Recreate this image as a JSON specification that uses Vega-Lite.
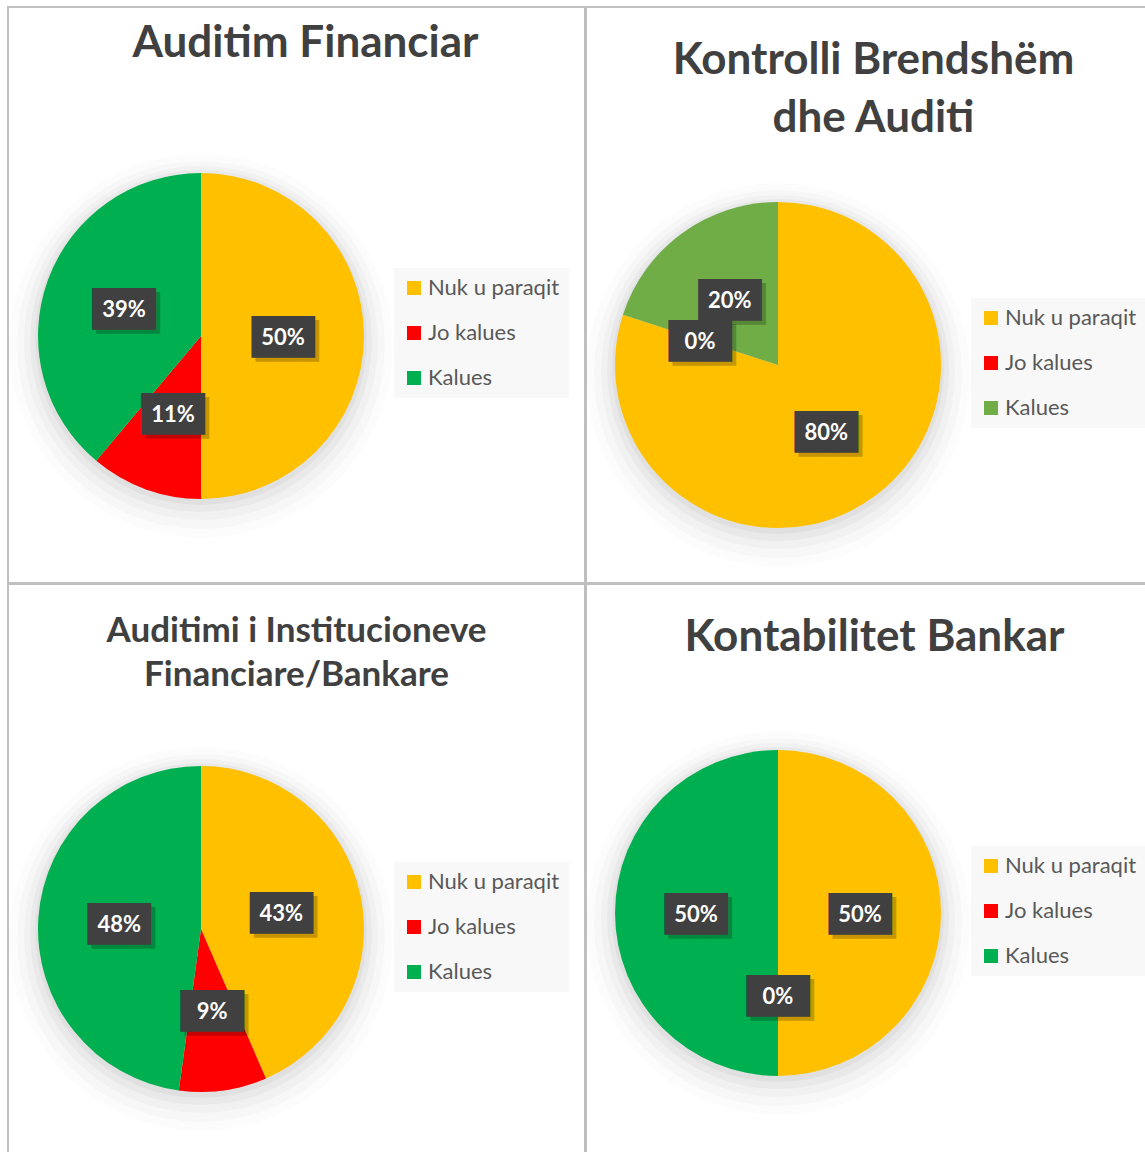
{
  "$schema": "https://vega.github.io/schema/vega-lite/v6.json",
  "padding": {"left": 7, "top": 6, "right": 0, "bottom": 0},
  "background": "white",
  "datasets": {
    "p1": [
      {"cat": "Nuk u paraqit", "v": 0.5, "o": 1},
      {"cat": "Jo kalues", "v": 0.1111, "o": 2},
      {"cat": "Kalues", "v": 0.3889, "o": 3}
    ],
    "p2": [
      {"cat": "Nuk u paraqit", "v": 0.8, "o": 1},
      {"cat": "Jo kalues", "v": 0, "o": 2},
      {"cat": "Kalues", "v": 0.2, "o": 3}
    ],
    "p3": [
      {"cat": "Nuk u paraqit", "v": 0.4348, "o": 1},
      {"cat": "Jo kalues", "v": 0.087, "o": 2},
      {"cat": "Kalues", "v": 0.4783, "o": 3}
    ],
    "p4": [
      {"cat": "Nuk u paraqit", "v": 0.5, "o": 1},
      {"cat": "Jo kalues", "v": 0, "o": 2},
      {"cat": "Kalues", "v": 0.5, "o": 3}
    ],
    "one": [{"s": 1}]
  },
  "columns": 2,
  "spacing": -2,
  "resolve": {"scale": {"color": "independent"}, "legend": {"color": "independent"}},
  "concat": [
    {
      "width": 577, "height": 576,
      "view": {"stroke": "#bfbfbf", "strokeWidth": 2},
      "title": {"text": "Auditim Financiar", "fontSize": 44, "offset": -59, "dx": 9},
      "data": {"name": "p1"},
      "layer": [
        {"data": {"name": "one"}, "mark": {"type": "arc", "x": 193, "y": 339, "radius": 192, "theta": 6.2832, "color": "#000", "opacity": 0.012}, "encoding": {}},
        {"data": {"name": "one"}, "mark": {"type": "arc", "x": 193, "y": 338, "radius": 184, "theta": 6.2832, "color": "#000", "opacity": 0.018}, "encoding": {}},
        {"data": {"name": "one"}, "mark": {"type": "arc", "x": 193, "y": 336, "radius": 177, "theta": 6.2832, "color": "#000", "opacity": 0.025}, "encoding": {}},
        {"data": {"name": "one"}, "mark": {"type": "arc", "x": 193, "y": 334, "radius": 171, "theta": 6.2832, "color": "#000", "opacity": 0.03}, "encoding": {}},
        {"data": {"name": "one"}, "mark": {"type": "arc", "x": 193, "y": 332, "radius": 166, "theta": 6.2832, "color": "#000", "opacity": 0.035}, "encoding": {}},
        {
          "mark": {"type": "arc", "x": 193, "y": 329, "radius": 163},
          "encoding": {
            "theta": {"field": "v", "type": "quantitative", "stack": true},
            "order": {"field": "o", "type": "quantitative"},
            "color": {"field": "cat", "type": "nominal",
              "scale": {"domain": ["Nuk u paraqit", "Jo kalues", "Kalues"], "range": ["#FFC000", "#FF0000", "#00B050"]},
              "legend": {"title": null, "orient": "none", "legendX": 386, "legendY": 261}}
          }
        },
        {
          "mark": {"type": "text", "x": 193, "y": 329, "radius": 82, "font": "DejaVu Sans Mono", "fontSize": 35, "align": "center", "baseline": "middle", "color": "#000", "opacity": 0.22, "dx": 4, "dy": 6},
          "encoding": {"theta": {"field": "v", "type": "quantitative", "stack": true}, "order": {"field": "o", "type": "quantitative"}, "detail": {"field": "cat"}, "text": {"value": "███"}}
        },
        {
          "mark": {"type": "text", "x": 193, "y": 329, "radius": 82, "font": "DejaVu Sans Mono", "fontSize": 35, "align": "center", "baseline": "middle", "color": "#404040", "dy": 2},
          "encoding": {"theta": {"field": "v", "type": "quantitative", "stack": true}, "order": {"field": "o", "type": "quantitative"}, "detail": {"field": "cat"}, "text": {"value": "███"}}
        },
        {
          "mark": {"type": "text", "x": 193, "y": 329, "radius": 82, "font": "Lato", "fontWeight": "bold", "fontSize": 22, "align": "center", "baseline": "middle", "color": "white", "dy": 2},
          "encoding": {"theta": {"field": "v", "type": "quantitative", "stack": true}, "order": {"field": "o", "type": "quantitative"}, "detail": {"field": "cat"}, "text": {"field": "v", "type": "quantitative", "format": ".0%"}}
        }
      ]
    },
    {
      "width": 577, "height": 576,
      "view": {"stroke": "#bfbfbf", "strokeWidth": 2},
      "title": {"text": ["Kontrolli Brendshëm", "dhe Auditi"], "fontSize": 44, "lineHeight": 58, "offset": -134, "dx": -1},
      "data": {"name": "p2"},
      "layer": [
        {"data": {"name": "one"}, "mark": {"type": "arc", "x": 192, "y": 368, "radius": 192, "theta": 6.2832, "color": "#000", "opacity": 0.012}, "encoding": {}},
        {"data": {"name": "one"}, "mark": {"type": "arc", "x": 192, "y": 367, "radius": 184, "theta": 6.2832, "color": "#000", "opacity": 0.018}, "encoding": {}},
        {"data": {"name": "one"}, "mark": {"type": "arc", "x": 192, "y": 365, "radius": 177, "theta": 6.2832, "color": "#000", "opacity": 0.025}, "encoding": {}},
        {"data": {"name": "one"}, "mark": {"type": "arc", "x": 192, "y": 363, "radius": 171, "theta": 6.2832, "color": "#000", "opacity": 0.03}, "encoding": {}},
        {"data": {"name": "one"}, "mark": {"type": "arc", "x": 192, "y": 361, "radius": 166, "theta": 6.2832, "color": "#000", "opacity": 0.035}, "encoding": {}},
        {
          "mark": {"type": "arc", "x": 192, "y": 358, "radius": 163},
          "encoding": {
            "theta": {"field": "v", "type": "quantitative", "stack": true},
            "order": {"field": "o", "type": "quantitative"},
            "color": {"field": "cat", "type": "nominal",
              "scale": {"domain": ["Nuk u paraqit", "Jo kalues", "Kalues"], "range": ["#FFC000", "#FF0000", "#70AD47"]},
              "legend": {"title": null, "orient": "none", "legendX": 385, "legendY": 291}}
          }
        },
        {
          "mark": {"type": "text", "x": 192, "y": 358, "radius": 82, "font": "DejaVu Sans Mono", "fontSize": 35, "align": "center", "baseline": "middle", "color": "#000", "opacity": 0.22, "dx": 4, "dy": 6},
          "encoding": {"theta": {"field": "v", "type": "quantitative", "stack": true}, "order": {"field": "o", "type": "quantitative"}, "detail": {"field": "cat"}, "text": {"value": "███"}}
        },
        {
          "mark": {"type": "text", "x": 192, "y": 358, "radius": 82, "font": "DejaVu Sans Mono", "fontSize": 35, "align": "center", "baseline": "middle", "color": "#404040", "dy": 2},
          "encoding": {"theta": {"field": "v", "type": "quantitative", "stack": true}, "order": {"field": "o", "type": "quantitative"}, "detail": {"field": "cat"}, "text": {"value": "███"}}
        },
        {
          "mark": {"type": "text", "x": 192, "y": 358, "radius": 82, "font": "Lato", "fontWeight": "bold", "fontSize": 22, "align": "center", "baseline": "middle", "color": "white", "dy": 2},
          "encoding": {"theta": {"field": "v", "type": "quantitative", "stack": true}, "order": {"field": "o", "type": "quantitative"}, "detail": {"field": "cat"}, "text": {"field": "v", "type": "quantitative", "format": ".0%"}}
        }
      ]
    },
    {
      "width": 577, "height": 576,
      "view": {"stroke": "#bfbfbf", "strokeWidth": 2},
      "title": {"text": ["Auditimi i Institucioneve", "Financiare/Bankare"], "fontSize": 35, "lineHeight": 44, "offset": -109, "dx": 0},
      "data": {"name": "p3"},
      "layer": [
        {"data": {"name": "one"}, "mark": {"type": "arc", "x": 193, "y": 355, "radius": 192, "theta": 6.2832, "color": "#000", "opacity": 0.012}, "encoding": {}},
        {"data": {"name": "one"}, "mark": {"type": "arc", "x": 193, "y": 354, "radius": 184, "theta": 6.2832, "color": "#000", "opacity": 0.018}, "encoding": {}},
        {"data": {"name": "one"}, "mark": {"type": "arc", "x": 193, "y": 352, "radius": 177, "theta": 6.2832, "color": "#000", "opacity": 0.025}, "encoding": {}},
        {"data": {"name": "one"}, "mark": {"type": "arc", "x": 193, "y": 350, "radius": 171, "theta": 6.2832, "color": "#000", "opacity": 0.03}, "encoding": {}},
        {"data": {"name": "one"}, "mark": {"type": "arc", "x": 193, "y": 348, "radius": 166, "theta": 6.2832, "color": "#000", "opacity": 0.035}, "encoding": {}},
        {
          "mark": {"type": "arc", "x": 193, "y": 345, "radius": 163},
          "encoding": {
            "theta": {"field": "v", "type": "quantitative", "stack": true},
            "order": {"field": "o", "type": "quantitative"},
            "color": {"field": "cat", "type": "nominal",
              "scale": {"domain": ["Nuk u paraqit", "Jo kalues", "Kalues"], "range": ["#FFC000", "#FF0000", "#00B050"]},
              "legend": {"title": null, "orient": "none", "legendX": 386, "legendY": 278}}
          }
        },
        {
          "mark": {"type": "text", "x": 193, "y": 345, "radius": 82, "font": "DejaVu Sans Mono", "fontSize": 35, "align": "center", "baseline": "middle", "color": "#000", "opacity": 0.22, "dx": 4, "dy": 6},
          "encoding": {"theta": {"field": "v", "type": "quantitative", "stack": true}, "order": {"field": "o", "type": "quantitative"}, "detail": {"field": "cat"}, "text": {"value": "███"}}
        },
        {
          "mark": {"type": "text", "x": 193, "y": 345, "radius": 82, "font": "DejaVu Sans Mono", "fontSize": 35, "align": "center", "baseline": "middle", "color": "#404040", "dy": 2},
          "encoding": {"theta": {"field": "v", "type": "quantitative", "stack": true}, "order": {"field": "o", "type": "quantitative"}, "detail": {"field": "cat"}, "text": {"value": "███"}}
        },
        {
          "mark": {"type": "text", "x": 193, "y": 345, "radius": 82, "font": "Lato", "fontWeight": "bold", "fontSize": 22, "align": "center", "baseline": "middle", "color": "white", "dy": 2},
          "encoding": {"theta": {"field": "v", "type": "quantitative", "stack": true}, "order": {"field": "o", "type": "quantitative"}, "detail": {"field": "cat"}, "text": {"field": "v", "type": "quantitative", "format": ".0%"}}
        }
      ]
    },
    {
      "width": 577, "height": 576,
      "view": {"stroke": "#bfbfbf", "strokeWidth": 2},
      "title": {"text": "Kontabilitet Bankar", "fontSize": 44, "offset": -76, "dx": 0},
      "data": {"name": "p4"},
      "layer": [
        {"data": {"name": "one"}, "mark": {"type": "arc", "x": 192, "y": 339, "radius": 192, "theta": 6.2832, "color": "#000", "opacity": 0.012}, "encoding": {}},
        {"data": {"name": "one"}, "mark": {"type": "arc", "x": 192, "y": 338, "radius": 184, "theta": 6.2832, "color": "#000", "opacity": 0.018}, "encoding": {}},
        {"data": {"name": "one"}, "mark": {"type": "arc", "x": 192, "y": 336, "radius": 177, "theta": 6.2832, "color": "#000", "opacity": 0.025}, "encoding": {}},
        {"data": {"name": "one"}, "mark": {"type": "arc", "x": 192, "y": 334, "radius": 171, "theta": 6.2832, "color": "#000", "opacity": 0.03}, "encoding": {}},
        {"data": {"name": "one"}, "mark": {"type": "arc", "x": 192, "y": 332, "radius": 166, "theta": 6.2832, "color": "#000", "opacity": 0.035}, "encoding": {}},
        {
          "mark": {"type": "arc", "x": 192, "y": 329, "radius": 163},
          "encoding": {
            "theta": {"field": "v", "type": "quantitative", "stack": true},
            "order": {"field": "o", "type": "quantitative"},
            "color": {"field": "cat", "type": "nominal",
              "scale": {"domain": ["Nuk u paraqit", "Jo kalues", "Kalues"], "range": ["#FFC000", "#FF0000", "#00B050"]},
              "legend": {"title": null, "orient": "none", "legendX": 385, "legendY": 262}}
          }
        },
        {
          "mark": {"type": "text", "x": 192, "y": 329, "radius": 82, "font": "DejaVu Sans Mono", "fontSize": 35, "align": "center", "baseline": "middle", "color": "#000", "opacity": 0.22, "dx": 4, "dy": 6},
          "encoding": {"theta": {"field": "v", "type": "quantitative", "stack": true}, "order": {"field": "o", "type": "quantitative"}, "detail": {"field": "cat"}, "text": {"value": "███"}}
        },
        {
          "mark": {"type": "text", "x": 192, "y": 329, "radius": 82, "font": "DejaVu Sans Mono", "fontSize": 35, "align": "center", "baseline": "middle", "color": "#404040", "dy": 2},
          "encoding": {"theta": {"field": "v", "type": "quantitative", "stack": true}, "order": {"field": "o", "type": "quantitative"}, "detail": {"field": "cat"}, "text": {"value": "███"}}
        },
        {
          "mark": {"type": "text", "x": 192, "y": 329, "radius": 82, "font": "Lato", "fontWeight": "bold", "fontSize": 22, "align": "center", "baseline": "middle", "color": "white", "dy": 2},
          "encoding": {"theta": {"field": "v", "type": "quantitative", "stack": true}, "order": {"field": "o", "type": "quantitative"}, "detail": {"field": "cat"}, "text": {"field": "v", "type": "quantitative", "format": ".0%"}}
        }
      ]
    }
  ],
  "config": {
    "view": {"stroke": "#bfbfbf", "strokeWidth": 2},
    "title": {"font": "Lato", "fontWeight": "bold", "color": "#404040", "anchor": "middle", "baseline": "top", "frame": "group"},
    "legend": {"symbolType": "square", "symbolSize": 196, "symbolStrokeWidth": 0, "labelFont": "Lato", "labelFontSize": 22, "labelColor": "#595959", "fillColor": "#f8f8f8", "padding": 9, "rowPadding": 23, "labelOffset": 3}
  }
}
